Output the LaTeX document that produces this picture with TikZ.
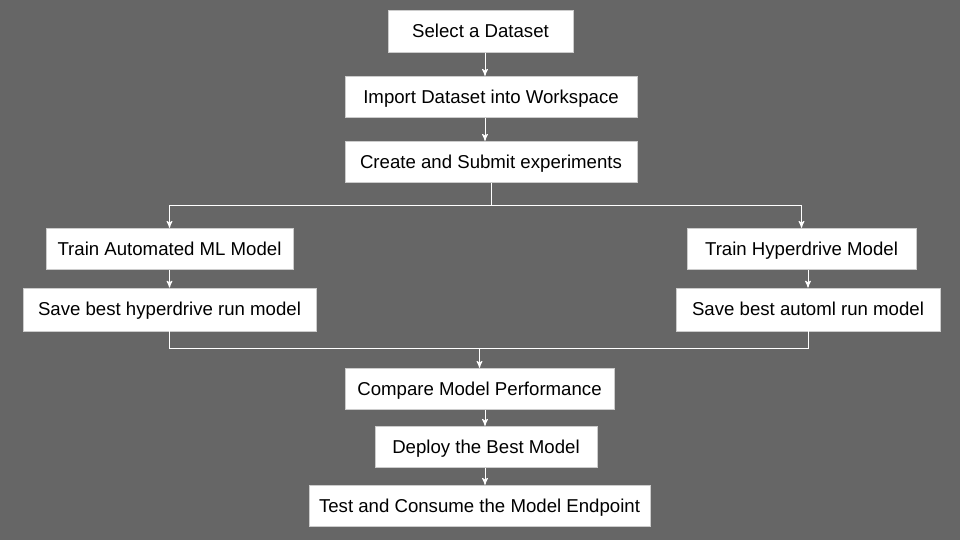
\documentclass[tikz,border=0pt]{standalone}
\usepackage{fontspec}
\setmainfont{Liberation Sans}
\usepackage{xcolor}
\usetikzlibrary{arrows}
\definecolor{bggray}{HTML}{666666}

\begin{document}
\begin{tikzpicture}[
        box/.style={draw=black!20, fill=white, line width=0.4pt,
            minimum height=0.83cm, inner sep=0pt,
            text height=0.92em, text depth=0.2em,
            font=\fontsize{10.6}{12}\selectfont},
        conn/.style={draw=white, line width=0.5pt, ->, >=stealth'}]
        \fill[bggray] (0,0) rectangle (19.2,10.8);
        \node[box, minimum width=3.7cm] (sel) at (9.61,10.17) {Select a Dataset};
        \node[box, minimum width=5.84cm] (imp) at (9.82,8.86) {Import Dataset into Workspace};
        \node[box, minimum width=5.84cm] (crt) at (9.82,7.56) {Create and Submit experiments};
        \node[box, minimum width=4.94cm] (tam) at (3.39,5.82) {Train Automated ML Model};
        \node[box, minimum width=5.86cm, minimum height=0.86cm] (sbh) at (3.39,4.61) {Save best hyperdrive run model};
        \node[box, minimum width=4.58cm] (thd) at (16.03,5.82) {Train Hyperdrive Model};
        \node[box, minimum width=5.28cm, minimum height=0.86cm] (sba) at (16.16,4.61) {Save best automl run model};
        \node[box, minimum width=5.38cm] (cmp) at (9.59,3.02) {Compare Model Performance};
        \node[box, minimum width=4.44cm] (dep) at (9.72,1.86) {Deploy the Best Model};
        \node[box, minimum width=6.82cm] (tst) at (9.59,0.68) {Test and Consume the Model Endpoint};
        \coordinate (ax) at (9.7,0);
        \coordinate (split) at (9.82,6.7);
        \coordinate (join) at (9.59,3.84);
        \draw[conn] (ax |- sel.south) -- (ax |- imp.north);
        \draw[conn] (ax |- imp.south) -- (ax |- crt.north);
        \draw[conn] (crt.south) -- (split) -| (tam.north);
        \draw[conn] (split) -| (thd.north);
        \draw[conn] (tam.south) -- (sbh.north);
        \draw[conn] (thd.south -| sba) -- (sba.north);
        \draw[draw=white, line width=0.5pt] (sbh.south) |- (join);
        \draw[draw=white, line width=0.5pt] (sba.south) |- (join);
        \draw[conn] (join) -- (cmp.north);
        \draw[conn] (ax |- cmp.south) -- (ax |- dep.north);
        \draw[conn] (ax |- dep.south) -- (ax |- tst.north);
\end{tikzpicture}
\end{document}
